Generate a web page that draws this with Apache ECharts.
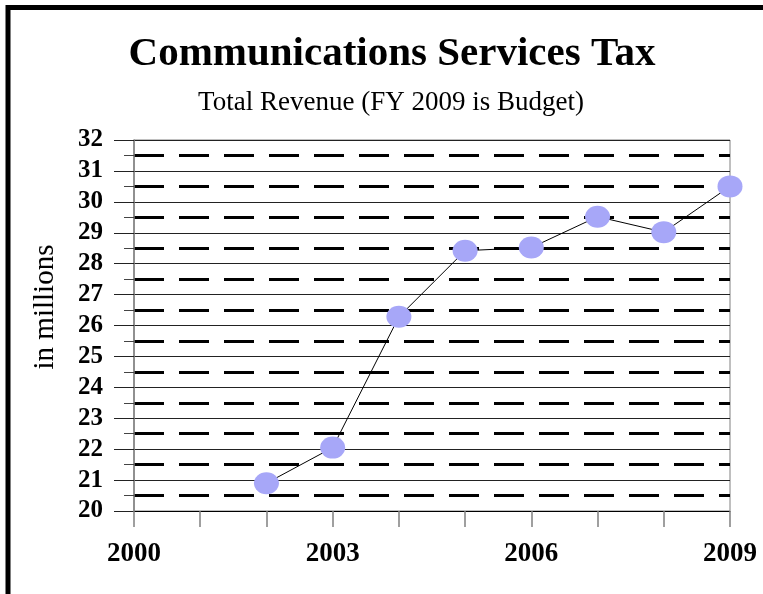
<!DOCTYPE html>
<html>
<head>
<meta charset="utf-8">
<script src="https://cdn.jsdelivr.net/npm/echarts@6/dist/echarts.min.js"></script>
<style>
html,body{margin:0;padding:0;background:#fff;}
#chart{width:763px;height:594px;}
</style>
</head>
<body>
<div id="chart"></div>
<script>
var years = [2002, 2003, 2004, 2005, 2006, 2007, 2008, 2009];
var revenue = [20.9, 22.05, 26.28, 28.42, 28.52, 29.52, 29.02, 30.5];
var xLabelYears = [2000, 2003, 2006, 2009];
var titleText = 'Communications Services Tax';
var subtitleText = 'Total Revenue (FY 2009 is Budget)';
var yAxisName = 'in millions';

var seriesData = years.map(function (y, i) { return [y, revenue[i]]; });
var serif = '"Liberation Serif", "Times New Roman", serif';

var chart = echarts.init(document.getElementById('chart'));
chart.setOption({
  backgroundColor: '#fff',
  animation: false,
  title: [
    { text: titleText, left: 387, top: 29, textAlign: 'center',
      textStyle: { fontFamily: serif, fontWeight: 'bold', fontSize: 41, color: '#000' } },
    { text: subtitleText, left: 386, top: 84, textAlign: 'center',
      textStyle: { fontFamily: serif, fontWeight: 'normal', fontSize: 27, color: '#000' } }
  ],
  graphic: [
    { type: 'rect', shape: { x: 8, y: 7.5, width: 900, height: 800 },
      style: { fill: null, stroke: '#000', lineWidth: 5 }, silent: true },
    { type: 'text', x: 45, y: 307, rotation: Math.PI / 2,
      style: { text: yAxisName, font: '29px ' + serif, fill: '#000',
               textAlign: 'center', textVerticalAlign: 'middle' } }
  ],
  grid: { left: 134, right: 33, top: 140, bottom: 83, show: true,
          borderColor: '#808080', borderWidth: 1, containLabel: false },
  xAxis: {
    type: 'value', min: 2000, max: 2009, interval: 1,
    axisLine: { show: true, onZero: false, lineStyle: { color: '#000', width: 1 } },
    axisTick: { show: true, length: 16, inside: false, lineStyle: { color: '#808080', width: 1.5 } },
    splitLine: { show: false },
    axisLabel: {
      margin: 30, fontFamily: serif, fontWeight: 'bold', fontSize: 27, color: '#000',
      formatter: function (v) { return xLabelYears.indexOf(v) >= 0 ? String(v) : ''; }
    }
  },
  yAxis: {
    type: 'value', min: 20, max: 32, interval: 1,
    axisLine: { show: true, lineStyle: { color: '#808080', width: 1.5 } },
    axisTick: { show: true, length: 20, lineStyle: { color: '#222', width: 1 } },
    minorTick: { show: true, splitNumber: 2, length: 10, lineStyle: { color: '#444', width: 1 } },
    splitLine: { show: true, lineStyle: { color: '#222', width: 1 } },
    minorSplitLine: { show: true, lineStyle: { color: '#000', width: 3, type: [30, 15] } },
    axisLabel: { margin: 31, fontFamily: serif, fontWeight: 'bold', fontSize: 25, color: '#000' }
  },
  series: [{
    type: 'line',
    data: seriesData,
    symbol: 'circle',
    symbolSize: [25, 22],
    showAllSymbol: true,
    itemStyle: { color: '#a7a7f8', borderWidth: 0 },
    lineStyle: { color: '#000', width: 1 },
    z: 5
  }]
});
</script>
</body>
</html>
